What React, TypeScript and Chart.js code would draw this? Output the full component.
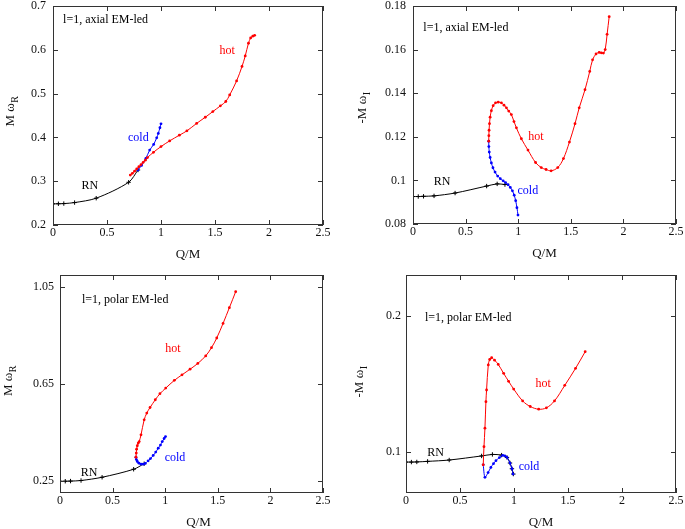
import React, { useEffect, useRef } from 'react';
import { Chart, registerables } from 'chart.js';
Chart.register(...registerables);

// ---------- tick values ----------
const xTickValues = [0, 0.5, 1, 1.5, 2, 2.5];
const yTicksAxialR = [0.2, 0.3, 0.4, 0.5, 0.6, 0.7];
const yTicksAxialI = [0.08, 0.1, 0.12, 0.14, 0.16, 0.18];
const yTicksPolarR = [0.25, 0.65, 1.05];
const yTicksPolarI = [0.1, 0.2];

// ---------- panel 1: l=1 axial, M omega_R ----------
const axR_rnQ = [0, 0.05, 0.1, 0.2, 0.4, 0.7, 0.787];
const axR_rnW = [0.2483, 0.2485, 0.2489, 0.2512, 0.2612, 0.2975, 0.3256];
const axR_coldQ = [0.787, 0.82, 0.86, 0.895, 0.932, 0.96, 0.975, 0.99, 1.0];
const axR_coldW = [0.3256, 0.336, 0.352, 0.371, 0.384, 0.399, 0.409, 0.422, 0.431];
const axR_hotQ = [0.716, 0.735, 0.755, 0.775, 0.795, 0.815, 0.835, 0.855, 0.875, 0.93, 1.0, 1.08, 1.17, 1.24, 1.33, 1.41, 1.48, 1.55, 1.6, 1.636, 1.7, 1.75, 1.78, 1.81, 1.83, 1.85, 1.867];
const axR_hotW = [0.314, 0.318, 0.323, 0.328, 0.333, 0.338, 0.343, 0.348, 0.354, 0.366, 0.379, 0.392, 0.405, 0.415, 0.432, 0.446, 0.459, 0.472, 0.482, 0.497, 0.529, 0.562, 0.586, 0.615, 0.627, 0.631, 0.633];

// ---------- panel 2: l=1 axial, -M omega_I ----------
const axI_rnQ = [0, 0.05, 0.1, 0.2, 0.4, 0.7, 0.8, 0.874];
const axI_rnW = [0.0926, 0.0926, 0.0927, 0.0929, 0.0942, 0.0974, 0.0984, 0.0981];
const axI_coldQ = [0.72, 0.721, 0.725, 0.733, 0.745, 0.76, 0.78, 0.805, 0.83, 0.857, 0.88, 0.904, 0.925, 0.945, 0.962, 0.976, 0.988, 0.998];
const axI_coldW = [0.118, 0.1155, 0.113, 0.1105, 0.108, 0.1058, 0.1038, 0.102, 0.1008, 0.0998, 0.099, 0.098, 0.0968, 0.0952, 0.0932, 0.0907, 0.0875, 0.0841];
const axI_hotQ = [0.72, 0.721, 0.723, 0.727, 0.733, 0.745, 0.762, 0.785, 0.81, 0.84, 0.865, 0.888, 0.91, 0.935, 0.96, 0.983, 1.03, 1.093, 1.165, 1.219, 1.265, 1.313, 1.376, 1.43, 1.487, 1.54, 1.58, 1.635, 1.68, 1.707, 1.74, 1.77, 1.79, 1.81, 1.827, 1.845, 1.865];
const axI_hotW = [0.118, 0.1205, 0.123, 0.126, 0.129, 0.132, 0.1343, 0.1356, 0.1359, 0.1356, 0.1345, 0.1333, 0.1318, 0.1302, 0.127, 0.1241, 0.1191, 0.1139, 0.1082, 0.1059, 0.105, 0.1044, 0.1059, 0.11, 0.1176, 0.126, 0.1333, 0.1416, 0.15, 0.1553, 0.158, 0.1587, 0.1585, 0.1584, 0.16, 0.167, 0.1751];

// ---------- panel 3: l=1 polar, M omega_R ----------
const poR_rnQ = [0, 0.05, 0.1, 0.2, 0.4, 0.7, 0.8];
const poR_rnW = [0.2483, 0.2486, 0.2492, 0.2515, 0.265, 0.298, 0.321];
const poR_coldQ = [0.722, 0.726, 0.735, 0.75, 0.77, 0.79, 0.81, 0.838, 0.86, 0.886, 0.91, 0.934, 0.955, 0.972, 0.99, 1.003];
const poR_coldW = [0.348, 0.338, 0.33, 0.323, 0.319, 0.319, 0.322, 0.333, 0.342, 0.355, 0.369, 0.385, 0.398, 0.4125, 0.425, 0.433];
const poR_hotQ = [0.722, 0.725, 0.728, 0.735, 0.744, 0.753, 0.77, 0.8, 0.825, 0.856, 0.906, 0.95, 1.005, 1.087, 1.16, 1.236, 1.31, 1.385, 1.44, 1.49, 1.55, 1.61, 1.67];
const poR_hotW = [0.348, 0.365, 0.381, 0.395, 0.406, 0.4125, 0.44, 0.502, 0.53, 0.553, 0.585, 0.61, 0.633, 0.665, 0.688, 0.711, 0.735, 0.766, 0.8, 0.84, 0.9, 0.965, 1.031];

// ---------- panel 4: l=1 polar, -M omega_I ----------
const poI_rnQ = [0, 0.05, 0.1, 0.2, 0.4, 0.7, 0.8, 0.885, 0.935, 0.963, 0.981, 0.994];
const poI_rnW = [0.0927, 0.0927, 0.0928, 0.0932, 0.0942, 0.0972, 0.0983, 0.0978, 0.0961, 0.092, 0.0878, 0.0839];
const poI_coldQ = [0.715, 0.731, 0.76, 0.786, 0.81, 0.833, 0.865, 0.895, 0.915, 0.935, 0.963, 0.981, 0.991];
const poI_coldW = [0.0907, 0.0815, 0.085, 0.0888, 0.0915, 0.0937, 0.096, 0.0976, 0.0973, 0.0961, 0.092, 0.0878, 0.0839];
const poI_hotQ = [0.715, 0.722, 0.731, 0.74, 0.746, 0.762, 0.775, 0.793, 0.82, 0.854, 0.904, 0.95, 0.997, 1.08, 1.15, 1.229, 1.3, 1.375, 1.47, 1.57, 1.659];
const poI_hotW = [0.0907, 0.104, 0.1176, 0.137, 0.1456, 0.164, 0.168, 0.1693, 0.1675, 0.1644, 0.1578, 0.152, 0.1463, 0.1376, 0.1335, 0.1315, 0.1325, 0.1376, 0.149, 0.1615, 0.1737];

const FONT = "'Liberation Serif', 'Times New Roman', serif";
const RED = '#ff0000';
const BLUE = '#0000ff';
const BLACK = '#000000';

type Label = { text: string; color: string; q: number; w: number; align: CanvasTextAlign };
type PanelCfg = {
  left: number; top: number; width: number; height: number;
  area: { left: number; right: number; top: number; bottom: number };
  yMin: number; yMax: number; yTicks: number[]; yPad: number;
  yMain: string; ySub: string; yTitleX: number; yTitleDy: number; xTitleDx: number;
  hot: [number[], number[]]; cold: [number[], number[]]; rn: [number[], number[]];
  labels: Label[];
};

function series(q: number[], w: number[], color: string, cross: boolean, tension: number) {
  return {
    data: q.map((x, i) => ({ x, y: w[i] })),
    borderColor: color,
    backgroundColor: color,
    borderWidth: 1,
    pointStyle: cross ? 'cross' : 'circle',
    pointRadius: cross ? 2.2 : 1.4,
    pointBorderWidth: cross ? 1 : 0,
    pointBorderColor: color,
    pointBackgroundColor: color,
    showLine: true,
    fill: false,
    tension,
  };
}

const fmt = (v: number) => String(+Number(v).toFixed(4));

const decorPlugin = {
  id: 'decor',
  afterDraw(chart: any) {
    const opts = chart.options.plugins.decor;
    const { ctx, chartArea: a, scales } = chart;
    const xs = scales.x, ys = scales.y;
    const L = Math.round(a.left), R = Math.round(a.right) - 1;
    const T = Math.round(a.top), B = Math.round(a.bottom) - 1;
    ctx.save();
    ctx.fillStyle = '#333';
    // frame
    ctx.fillRect(L, T, R - L + 1, 1);
    ctx.fillRect(L, B, R - L + 1, 1);
    ctx.fillRect(L, T, 1, B - T + 1);
    ctx.fillRect(R, T, 1, B - T + 1);
    // inward tick marks on all four sides
    const tl = 5;
    const yv: number[] = opts.yTicks;
    const xv: number[] = opts.xTicks;
    yv.forEach((v) => {
      const py = Math.round(ys.getPixelForValue(v));
      ctx.fillRect(L, py, tl, 1);
      ctx.fillRect(R - tl + 1, py, tl, 1);
    });
    xv.forEach((v) => {
      const px = Math.round(xs.getPixelForValue(v));
      ctx.fillRect(px, B - tl + 1, 1, tl);
      ctx.fillRect(px, T, 1, tl);
    });

    ctx.font = `12px ${FONT}`;
    ctx.textBaseline = 'middle';
    for (const lb of opts.labels as Label[]) {
      ctx.fillStyle = lb.color;
      ctx.textAlign = lb.align;
      ctx.fillText(lb.text, xs.getPixelForValue(lb.q), ys.getPixelForValue(lb.w));
    }

    // x title
    ctx.fillStyle = '#111';
    ctx.font = `13px ${FONT}`;
    ctx.textAlign = 'center';
    ctx.fillText('Q/M', (a.left + a.right) / 2 + opts.xTitleDx, a.bottom + 30);

    // y title with subscript
    ctx.translate(opts.yTitleX, (a.top + a.bottom) / 2 + opts.yTitleDy);
    ctx.rotate(-Math.PI / 2);
    ctx.font = `13px ${FONT}`;
    const wMain = ctx.measureText(opts.yMain).width;
    ctx.font = `10px ${FONT}`;
    const wSub = ctx.measureText(opts.ySub).width;
    const start = -(wMain + wSub) / 2;
    ctx.textAlign = 'left';
    ctx.font = `13px ${FONT}`;
    ctx.fillText(opts.yMain, start, 0);
    ctx.font = `10px ${FONT}`;
    ctx.fillText(opts.ySub, start + wMain + 0.5, 4);
    ctx.restore();
  },
};

const panels: PanelCfg[] = [
  {
    left: 0, top: 0, width: 340, height: 265,
    area: { left: 53, right: 323, top: 6, bottom: 225 },
    yMin: 0.2, yMax: 0.7, yTicks: yTicksAxialR, yPad: 7,
    yMain: 'M \u03c9', ySub: 'R', yTitleX: 11, yTitleDy: -4, xTitleDx: 0,
    hot: [axR_hotQ, axR_hotW], cold: [axR_coldQ, axR_coldW], rn: [axR_rnQ, axR_rnW],
    labels: [
      { text: 'l=1, axial EM-led', color: BLACK, q: 0.093, w: 0.668, align: 'left' },
      { text: 'hot', color: RED, q: 1.613, w: 0.597, align: 'center' },
      { text: 'cold', color: BLUE, q: 0.79, w: 0.399, align: 'center' },
      { text: 'RN', color: BLACK, q: 0.34, w: 0.289, align: 'center' },
    ],
  },
  {
    left: 340, top: 0, width: 345, height: 265,
    area: { left: 73, right: 336, top: 6, bottom: 224 },
    yMin: 0.08, yMax: 0.18, yTicks: yTicksAxialI, yPad: 7,
    yMain: '-M \u03c9', ySub: 'I', yTitleX: 23, yTitleDy: -7, xTitleDx: 0,
    hot: [axI_hotQ, axI_hotW], cold: [axI_coldQ, axI_coldW], rn: [axI_rnQ, axI_rnW],
    labels: [
      { text: 'l=1, axial EM-led', color: BLACK, q: 0.098, w: 0.1699, align: 'left' },
      { text: 'hot', color: RED, q: 1.168, w: 0.1198, align: 'center' },
      { text: 'cold', color: BLUE, q: 1.092, w: 0.0953, align: 'center' },
      { text: 'RN', color: BLACK, q: 0.276, w: 0.0992, align: 'center' },
    ],
  },
  {
    left: 0, top: 265, width: 340, height: 264,
    area: { left: 60, right: 323, top: 10, bottom: 228 },
    yMin: 0.2, yMax: 1.1, yTicks: yTicksPolarR, yPad: 6,
    yMain: 'M \u03c9', ySub: 'R', yTitleX: 9, yTitleDy: -3, xTitleDx: 7,
    hot: [poR_hotQ, poR_hotW], cold: [poR_coldQ, poR_coldW], rn: [poR_rnQ, poR_rnW],
    labels: [
      { text: 'l=1, polar EM-led', color: BLACK, q: 0.209, w: 0.999, align: 'left' },
      { text: 'hot', color: RED, q: 1.074, w: 0.797, align: 'center' },
      { text: 'cold', color: BLUE, q: 1.093, w: 0.347, align: 'center' },
      { text: 'RN', color: BLACK, q: 0.276, w: 0.285, align: 'center' },
    ],
  },
  {
    left: 340, top: 265, width: 345, height: 264,
    area: { left: 66, right: 336, top: 10, bottom: 228 },
    yMin: 0.07, yMax: 0.23, yTicks: yTicksPolarI, yPad: 5,
    yMain: '-M \u03c9', ySub: 'I', yTitleX: 20, yTitleDy: -2, xTitleDx: 0,
    hot: [poI_hotQ, poI_hotW], cold: [poI_coldQ, poI_coldW], rn: [poI_rnQ, poI_rnW],
    labels: [
      { text: 'l=1, polar EM-led', color: BLACK, q: 0.176, w: 0.1988, align: 'left' },
      { text: 'hot', color: RED, q: 1.269, w: 0.15, align: 'center' },
      { text: 'cold', color: BLUE, q: 1.139, w: 0.089, align: 'center' },
      { text: 'RN', color: BLACK, q: 0.273, w: 0.0994, align: 'center' },
    ],
  },
];

function Panel({ cfg }: { cfg: PanelCfg }) {
  const ref = useRef<HTMLCanvasElement | null>(null);
  useEffect(() => {
    if (!ref.current) return;
    const a = cfg.area;
    const chart = new Chart(ref.current, {
      type: 'scatter',
      data: {
        datasets: [
          series(cfg.hot[0], cfg.hot[1], RED, false, 0.35),
          series(cfg.cold[0], cfg.cold[1], BLUE, false, 0.3),
          series(cfg.rn[0], cfg.rn[1], BLACK, true, 0.3),
        ] as any,
      },
      options: {
        responsive: false,
        animation: false,
        devicePixelRatio: 1,
        layout: { padding: { left: 0, top: a.top, right: cfg.width - a.right, bottom: 0 } },
        plugins: {
          legend: { display: false },
          tooltip: { enabled: false },
          decor: {
            labels: cfg.labels, yMain: cfg.yMain, ySub: cfg.ySub,
            yTitleX: cfg.yTitleX, yTitleDy: cfg.yTitleDy, xTitleDx: cfg.xTitleDx,
            xTicks: xTickValues, yTicks: cfg.yTicks,
          },
        } as any,
        scales: {
          x: {
            type: 'linear', min: 0, max: 2.5,
            grid: { display: false, drawTicks: false }, border: { display: false },
            ticks: { font: { family: FONT, size: 12 }, color: '#111', padding: 1, autoSkip: false, maxRotation: 0, callback: (v: any) => fmt(v) },
            afterBuildTicks: (s: any) => { s.ticks = xTickValues.map((v) => ({ value: v })); },
            afterFit: (s: any) => { s.height = cfg.height - a.bottom; s.paddingLeft = 0; s.paddingRight = 0; },
          },
          y: {
            type: 'linear', min: cfg.yMin, max: cfg.yMax,
            grid: { display: false, drawTicks: false }, border: { display: false },
            ticks: { font: { family: FONT, size: 12 }, color: '#111', padding: cfg.yPad, autoSkip: false, callback: (v: any) => fmt(v) },
            afterBuildTicks: (s: any) => { s.ticks = cfg.yTicks.map((v) => ({ value: v })); },
            afterFit: (s: any) => { s.width = a.left; s.paddingTop = 0; s.paddingBottom = 0; },
          },
        } as any,
      },
      plugins: [decorPlugin as any],
    });
    return () => chart.destroy();
  }, [cfg]);
  return (
    <canvas
      ref={ref}
      width={cfg.width}
      height={cfg.height}
      style={{ position: 'absolute', left: cfg.left, top: cfg.top, width: cfg.width, height: cfg.height }}
    />
  );
}

export default function App() {
  return (
    <div style={{ position: 'absolute', left: 0, top: 0, width: 685, height: 529, background: '#fff' }}>
      {panels.map((p, i) => (
        <Panel key={i} cfg={p} />
      ))}
    </div>
  );
}
